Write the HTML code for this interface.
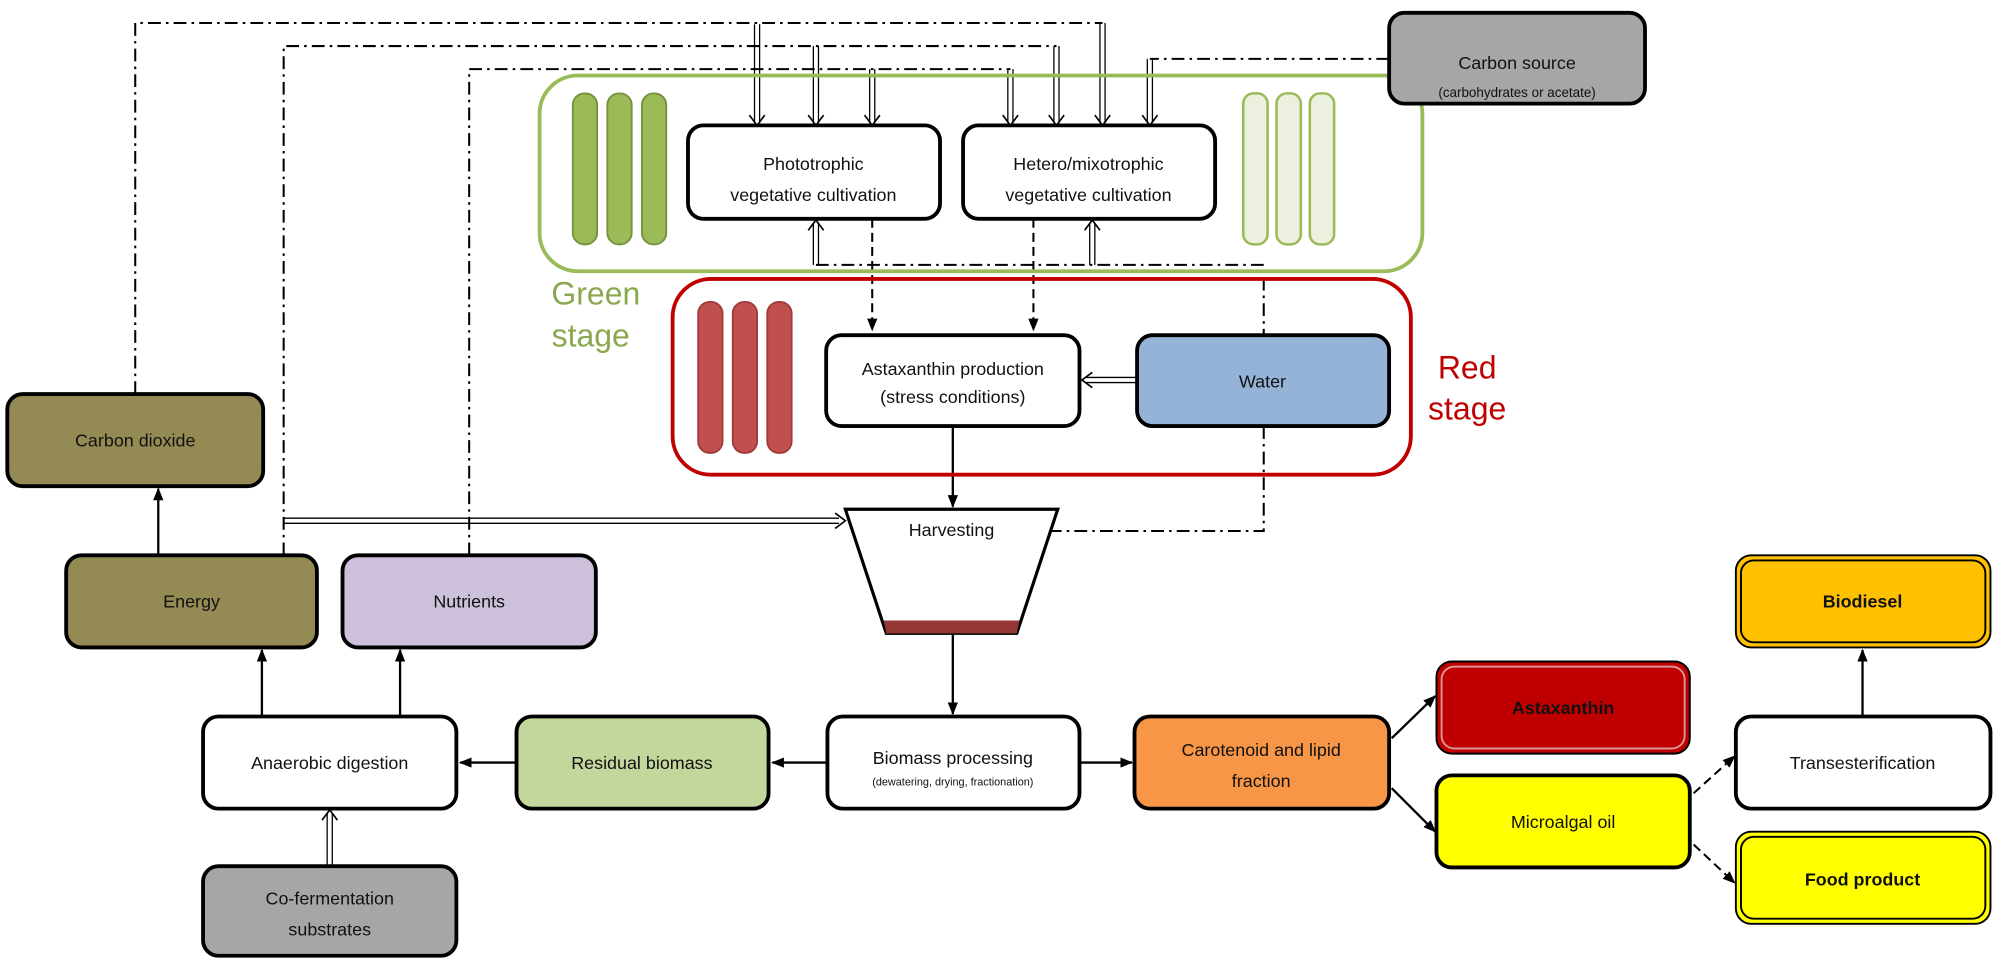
<!DOCTYPE html>
<html><head><meta charset="utf-8"><style>
html,body{margin:0;padding:0;background:#fff;}
svg{display:block;}
text{font-family:"Liberation Sans",sans-serif;fill:#111;}
</style></head><body>
<svg width="2008" height="966" viewBox="0 0 1568 755" xmlns="http://www.w3.org/2000/svg">
<defs>
<marker id="a" markerWidth="10" markerHeight="10" refX="9" refY="5" orient="auto" markerUnits="userSpaceOnUse"><path d="M0,1 L10,5 L0,9 Z" fill="#000"/></marker>
</defs>
<g fill="none" stroke="#000" stroke-width="1.6" stroke-dasharray="10,4,2,4">
<polyline points="105,308 105,18 861,18"/>
<polyline points="221,434 221,36 825,36"/>
<polyline points="366,434 366,54 789,54"/>
<polyline points="1085,46 898,46"/>
<polyline points="637,207 987,207 987,262"/>
<polyline points="987,333 987,415 820,415"/>
</g>
<g fill="none" stroke="#000" stroke-width="1">
<path d="M589,19 V96 M593,19 V96 M635,36 V96 M639,36 V96 M679,54 V96 M683,54 V96"/>
<path d="M787,54 V96 M791,54 V96 M823,36 V96 M827,36 V96 M859,18 V96 M863,18 V96 M896,46 V96 M900,46 V96"/>
<path d="M635,207 V175 M639,207 V175 M851,207 V175 M855,207 V175"/>
<path d="M888,295 H848 M888,299 H848"/>
<path d="M221,405 H655 M221,409 H655"/>
<path d="M255,677 V636 M259,677 V636"/>
</g>
<g fill="none" stroke="#000" stroke-width="1.3">
<path d="M585,90 L591,98 L597,90 M631,90 L637,98 L643,90 M675,90 L681,98 L687,90 M783,90 L789,98 L795,90 M819,90 L825,98 L831,90 M855,90 L861,98 L867,90 M892,90 L898,98 L904,90"/>
<path d="M631,180 L637,172 L643,180 M847,180 L853,172 L859,180"/>
<path d="M853,291 L845,297 L853,303 M652,401 L660,407 L652,413 M251,641 L257,633 L263,641"/>
</g>
<g stroke="#000" stroke-width="1.6" stroke-dasharray="7,4" fill="none">
<line x1="681" y1="171" x2="681" y2="258" marker-end="url(#a)"/>
<line x1="807" y1="171" x2="807" y2="258" marker-end="url(#a)"/>
<line x1="1323" y1="620" x2="1355" y2="591" marker-end="url(#a)"/>
<line x1="1323" y1="660" x2="1355" y2="690" marker-end="url(#a)"/>
</g>
<g stroke="#000" stroke-width="1.8" fill="none">
<line x1="744" y1="334" x2="744" y2="396" marker-end="url(#a)"/>
<line x1="744" y1="496" x2="744" y2="558" marker-end="url(#a)"/>
<line x1="645" y1="596" x2="603" y2="596" marker-end="url(#a)"/>
<line x1="402" y1="596" x2="359" y2="596" marker-end="url(#a)"/>
<line x1="844" y1="596" x2="884" y2="596" marker-end="url(#a)"/>
<line x1="204" y1="560" x2="204" y2="508" marker-end="url(#a)"/>
<line x1="312" y1="560" x2="312" y2="508" marker-end="url(#a)"/>
<line x1="123" y1="434" x2="123" y2="382" marker-end="url(#a)"/>
<line x1="1087" y1="577" x2="1121" y2="544" marker-end="url(#a)"/>
<line x1="1087" y1="616" x2="1121" y2="650" marker-end="url(#a)"/>
<line x1="1455" y1="560" x2="1455" y2="508" marker-end="url(#a)"/>
</g>
<rect x="421" y="59" width="690" height="153" rx="30" fill="none" stroke="#9BBB59" stroke-width="3"/>
<rect x="525" y="218" width="577" height="153" rx="30" fill="none" stroke="#C00000" stroke-width="3"/>
<text x="465" y="238" font-size="25" text-anchor="middle" style="fill:#8AA84E">Green</text>
<text x="461" y="271" font-size="25" text-anchor="middle" style="fill:#8AA84E">stage</text>
<text x="1146" y="296" font-size="25" text-anchor="middle" style="fill:#C00000">Red</text>
<text x="1146" y="328" font-size="25" text-anchor="middle" style="fill:#C00000">stage</text>
<g stroke="#76923C" stroke-width="1.5" fill="#9BBB59">
<rect x="447" y="73" width="19" height="118" rx="9"/><rect x="474" y="73" width="19" height="118" rx="9"/><rect x="501" y="73" width="19" height="118" rx="9"/>
</g>
<g stroke="#9BBB59" stroke-width="2" fill="#EBF1DE">
<rect x="971" y="73" width="19" height="118" rx="8"/><rect x="997" y="73" width="19" height="118" rx="8"/><rect x="1023" y="73" width="19" height="118" rx="8"/>
</g>
<g stroke="#A23B3A" stroke-width="1.5" fill="#C0504D">
<rect x="545" y="236" width="19" height="118" rx="9"/><rect x="572" y="236" width="19" height="118" rx="9"/><rect x="599" y="236" width="19" height="118" rx="9"/>
</g>
<g stroke="#000" stroke-width="3">
<rect x="5" y="308" width="200" height="72" rx="12" fill="#948A54"/>
<rect x="51" y="434" width="196" height="72" rx="12" fill="#948A54"/>
<rect x="267" y="434" width="198" height="72" rx="12" fill="#CCC0DA"/>
<rect x="158" y="560" width="198" height="72" rx="12" fill="#fff"/>
<rect x="158" y="677" width="198" height="70" rx="12" fill="#A6A6A6"/>
<rect x="403" y="560" width="197" height="72" rx="12" fill="#C3D69B"/>
<rect x="646" y="560" width="197" height="72" rx="12" fill="#fff"/>
<rect x="886" y="560" width="199" height="72" rx="12" fill="#F79646"/>
<rect x="1122" y="606" width="198" height="72" rx="12" fill="#FFFF00"/>
<rect x="1356" y="560" width="199" height="72" rx="12" fill="#fff"/>
<rect x="645" y="262" width="198" height="71" rx="12" fill="#fff"/>
<rect x="888" y="262" width="197" height="71" rx="12" fill="#95B3D7"/>
<rect x="537" y="98" width="197" height="73" rx="12" fill="#fff"/>
<rect x="752" y="98" width="197" height="73" rx="12" fill="#fff"/>
<rect x="1085" y="10" width="200" height="71" rx="12" fill="#A6A6A6"/>
</g>
<g>
<rect x="1122" y="517" width="198" height="72" rx="12" fill="#C00000" stroke="#000" stroke-width="1.5"/>
<rect x="1126" y="521" width="190" height="64" rx="10" fill="none" stroke="#D99694" stroke-width="1.5"/>
<rect x="1356" y="434" width="199" height="72" rx="12" fill="#FFC000" stroke="#000" stroke-width="1.5"/>
<rect x="1360" y="438" width="191" height="64" rx="10" fill="none" stroke="#000" stroke-width="1.5"/>
<rect x="1356" y="650" width="199" height="72" rx="12" fill="#FFFF00" stroke="#000" stroke-width="1.5"/>
<rect x="1360" y="654" width="191" height="64" rx="10" fill="none" stroke="#000" stroke-width="1.5"/>
</g>
<polygon points="660,398 826,398 794,495 692,495" fill="#fff" stroke="#000" stroke-width="2.5"/>
<polygon points="690,485 796,485 794,495 692,495" fill="#953735"/>
<g font-size="14" text-anchor="middle">
<text x="105" y="349">Carbon dioxide</text>
<text x="149" y="475">Energy</text>
<text x="366" y="475">Nutrients</text>
<text x="257" y="601">Anaerobic digestion</text>
<text x="257" y="707">Co-fermentation</text>
<text x="257" y="731">substrates</text>
<text x="501" y="601">Residual biomass</text>
<text x="744" y="597">Biomass processing</text>
<text x="744" y="614" font-size="8.5">(dewatering, drying, fractionation)</text>
<text x="985" y="591">Carotenoid and lipid</text>
<text x="985" y="615">fraction</text>
<text x="1221" y="558" font-weight="bold">Astaxanthin</text>
<text x="1221" y="647">Microalgal oil</text>
<text x="1455" y="601">Transesterification</text>
<text x="1455" y="475" font-weight="bold">Biodiesel</text>
<text x="1455" y="692" font-weight="bold">Food product</text>
<text x="743" y="419">Harvesting</text>
<text x="744" y="293">Astaxanthin production</text>
<text x="744" y="315">(stress conditions)</text>
<text x="986" y="303">Water</text>
<text x="635" y="133">Phototrophic</text>
<text x="635" y="157">vegetative  cultivation</text>
<text x="850" y="133">Hetero/mixotrophic</text>
<text x="850" y="157">vegetative cultivation</text>
<text x="1185" y="54">Carbon source</text>
<text x="1185" y="76" font-size="10.5">(carbohydrates or acetate)</text>
</g>
</svg>
</body></html>
